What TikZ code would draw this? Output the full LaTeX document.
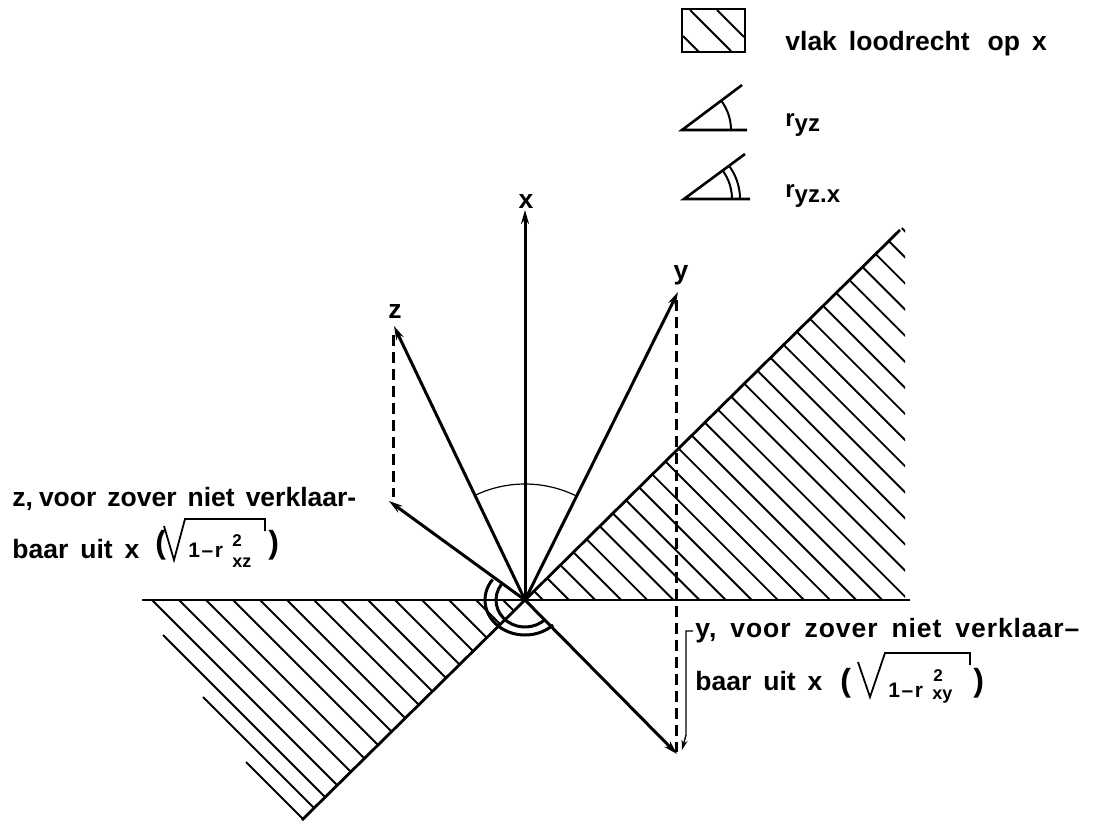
\documentclass[tikz,border=0pt]{standalone}
\usepackage{fontspec}
\setmainfont{Liberation Sans}
\usetikzlibrary{arrows.meta}
\begin{document}
\begin{tikzpicture}[x=0.5pt,y=-0.5pt,
  txt/.style={font=\fontsize{13.25pt}{15pt}\selectfont\bfseries, inner sep=0pt, anchor=base west},
  axlbl/.style={font=\fontsize{13.25pt}{15pt}\selectfont\bfseries, inner sep=0pt, anchor=base},
  leg/.style={font=\fontsize{12pt}{14pt}\selectfont\bfseries, inner sep=0pt, anchor=base west},
  paren/.style={font=\fontsize{16pt}{18pt}\selectfont\bfseries, inner sep=0pt, anchor=base west},
  rad/.style={font=\fontsize{10.5pt}{12pt}\selectfont\bfseries, inner sep=0pt, anchor=base west},
  sup/.style={font=\fontsize{8.5pt}{10pt}\selectfont\bfseries, inner sep=0pt, anchor=base west},
  sub/.style={font=\fontsize{9pt}{10pt}\selectfont\bfseries, inner sep=0pt, anchor=base west},
  axisline/.style={line width=1.4pt},
  vec/.style={line width=1.5pt, -{Stealth[length=7pt,width=4pt]}},
  hatchline/.style={line width=0.95pt},
  proj/.style={line width=1.5pt, dash pattern=on 5.5pt off 3pt},
  thinarc/.style={line width=0.6pt},
  dblarc/.style={line width=1.5pt},
  radline/.style={line width=0.9pt, line join=miter},
  conn/.style={line width=0.7pt, -{Stealth[length=5pt,width=3pt]}},
  legline/.style={line width=1.3pt},
  legarc/.style={line width=1pt}]
\useasboundingbox (0,0) rectangle (1109,821);

% key points
\coordinate (O) at (525,600);
\coordinate (X) at (525,210);
\coordinate (Y) at (678,292);
\coordinate (Z) at (394,326);
\coordinate (Zr) at (389,501);
\coordinate (Yr) at (677,754);
\coordinate (Hl) at (142,600);
\coordinate (Hr) at (910,600);
\coordinate (Dl) at (302,820);
\coordinate (Du) at (900,230);

% hatching, right part of the plane
\begin{scope}
  \clip (525,600) -- (905,600) -- (905,225) -- cycle;
  \foreach \k in {0,...,28} {\draw[hatchline] ({543+26.1*\k-420},180) -- ({543+26.1*\k},600);}
\end{scope}
% hatching, left part of the plane
\begin{scope}
  \clip (525,600) -- (0,600) -- (0,1118) -- cycle;
  \foreach \k in {0,...,13} {\draw[hatchline] ({152+27*\k},600) -- ++(300,300);}
  \foreach \p in {(163,635),(203,697),(246,762)} {\draw[hatchline] \p -- ++(300,300);}
\end{scope}

% plane edges
\draw[axisline] (Hl) -- (Hr);
\draw[axisline] (Dl) -- (Du);

% vectors
\draw[vec] (O) -- (X);
\draw[vec] (O) -- (Y);
\draw[vec] (O) -- (Z);
\draw[vec] (O) -- (Zr);
\draw[vec] (O) -- (Yr);

% projections
\coordinate (Zd1) at (393,335);
\coordinate (Zd2) at (393,497);
\coordinate (Yd1) at (676,300);
\coordinate (Yd2) at (676,752);
\draw[proj] (Zd1) -- (Zd2);
\draw[proj] (Yd1) -- (Yd2);

% angles
\draw[thinarc] (O) ++(115.6:58pt) arc[start angle=115.6, end angle=63.6, radius=58pt];
\draw[dblarc] (O) ++(144:20pt and 17.5pt) arc[start angle=144, end angle=314.6, x radius=20pt, y radius=17.5pt];
\draw[dblarc] (O) ++(144:14.5pt and 13.5pt) arc[start angle=144, end angle=314.6, x radius=14.5pt, y radius=13.5pt];

% axis labels
\node[axlbl] (lx) at (526,208) {x};
\node[axlbl] (ly) at (681,279) {y};
\node[axlbl] (lz) at (395,318) {z};

% z label
\node[txt] (z1) at (12,506) {\spaceskip=5.5pt z,\kern3pt voor zover niet verklaar-};
\node[txt] (z2) at (12,558) {\spaceskip=6pt baar uit x};
\node[paren] (zpl) at (155,553) {(};
\draw[radline] (164,526) -- (174,560) -- (185,519) -- (265,519) -- (265,531);
\node[rad] (zr) at (188,557) {1\kern0.8pt–\kern0.8pt r};
\node[sup] (z2s) at (232,546) {2};
\node[sub] (zxz) at (232,567) {xz};
\node[paren] (zpr) at (268,553) {)};

% y label
\node[txt] (y1) at (695,637) {\addfontfeatures{LetterSpace=3.5}\spaceskip=7pt y, voor zover niet verklaar–};
\node[txt] (y2) at (695,690) {\spaceskip=6pt baar uit x};
\node[paren] (ypl) at (840,691) {(};
\draw[radline] (858,662) -- (870,697) -- (885,653) -- (970,653) -- (970,665);
\node[rad] (yr) at (888,697) {1\kern0.8pt–\kern0.8pt r};
\node[sup] (y2s) at (933,681) {2};
\node[sub] (yxy) at (932,699) {xy};
\node[paren] (ypr) at (973,691) {)};
\coordinate (c1) at (693,631);
\coordinate (c2) at (686,631);
\coordinate (c3) at (686,735);
\coordinate (c4) at (682,750);
\draw[conn] (c1) -- (c2) -- (c3) -- (c4);

% legend: plane
\draw[legline] (682,9) rectangle (745,52);
\draw[hatchline] (690,10) -- (731,51);
\draw[hatchline] (717,10) -- (744,37);
\draw[hatchline] (683,36) -- (699,52);
\node[txt] (l1) at (785,50) {vlak\hspace{6pt}loodrecht\hspace{9pt}op\hspace{6pt}x};

% legend: r_yz
\coordinate (A1) at (682,130);
\draw[legline] (747,130) -- (A1) -- (742,85);
\draw[legarc] (A1) ++(0:24.5pt) arc[start angle=0, end angle=36.9, radius=24.5pt];
\node[leg] (l2) at (785,126) {r\raisebox{-2.5pt}{yz}};

% legend: r_yz.x
\coordinate (A2) at (684,199);
\draw[legline] (750,199) -- (A2) -- (745,154);
\draw[legarc] (A2) ++(0:24pt) arc[start angle=0, end angle=36.4, radius=24pt];
\draw[legarc] (A2) ++(0:28pt) arc[start angle=0, end angle=36.4, radius=28pt];
\node[leg] (l3) at (785,197) {r\raisebox{-2.5pt}{yz.x}};
\end{tikzpicture}
\end{document}
